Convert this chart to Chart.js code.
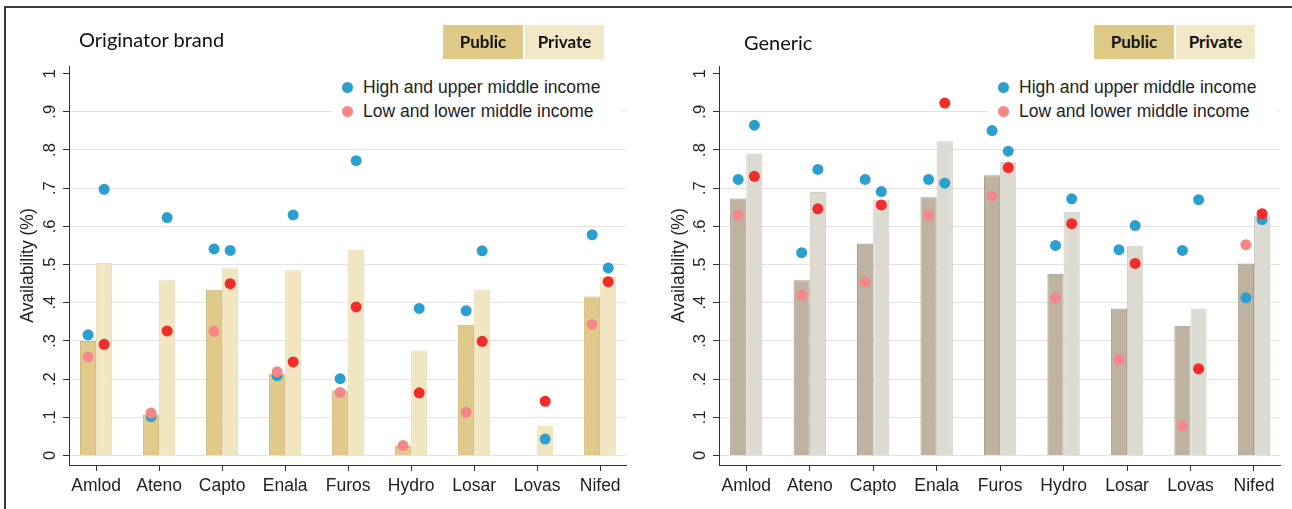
<!DOCTYPE html>
<html>
<head>
<meta charset="utf-8">
<script src="https://cdn.jsdelivr.net/npm/chart.js@4.4.1/dist/chart.umd.min.js"></script>
<style>
  body { margin: 0; background: #fff; }
  #wrap { position: relative; width: 1292px; height: 509px; overflow: hidden; }
  .panel { position: absolute; top: 0; width: 646px; height: 509px; }
  .frame { position: absolute; left: 4px; top: 6px; width: 1400px; height: 600px; border: 2px solid #3a3a3a; pointer-events: none; }
  .title { position: absolute; font: 20px Lato, sans-serif; line-height: 20px; color: #111; white-space: nowrap; }
  .key { position: absolute; top: 25px; height: 34px; text-align: center; font: bold 17px Lato, sans-serif; line-height: 34px; color: #111; }
  .legend { position: absolute; top: 73px; width: 290px; height: 52px; background: #fff; }
  .row { position: absolute; left: 0; width: 290px; height: 24px; font: 17.5px "Liberation Sans", Arial, sans-serif; line-height: 24px; color: #222; white-space: nowrap; }
  .row .dot { position: absolute; left: 10px; top: 6.5px; width: 11px; height: 11px; border-radius: 50%; }
  .row span { position: absolute; left: 31px; top: 0; }
</style>
</head>
<body>
<div id="wrap">
  <div class="panel" style="left:0"><canvas id="origChart" width="646" height="509"></canvas></div>
  <div class="panel" style="left:646px"><canvas id="genChart" width="646" height="509"></canvas></div>

  <div class="title" style="left:79px; top:29px">Originator brand</div>
  <div class="key" style="left:443px; width:80px; background:#dfc987">Public</div>
  <div class="key" style="left:525px; width:79px; background:#f2e7c6">Private</div>
  <div class="legend" style="left:332px">
    <div class="row" style="top:2px"><div class="dot" style="background:#2a9fd0"></div><span>High and upper middle income</span></div>
    <div class="row" style="top:26px"><div class="dot" style="background:#f5868a"></div><span>Low and lower middle income</span></div>
  </div>

  <div class="title" style="left:744px; top:32px">Generic</div>
  <div class="key" style="left:1094px; width:80px; background:#dfc987">Public</div>
  <div class="key" style="left:1176px; width:79px; background:#f2e7c6">Private</div>
  <div class="legend" style="left:988px">
    <div class="row" style="top:2px"><div class="dot" style="background:#2a9fd0"></div><span>High and upper middle income</span></div>
    <div class="row" style="top:26px"><div class="dot" style="background:#f5868a"></div><span>Low and lower middle income</span></div>
  </div>

  <div class="frame"></div>
</div>
<script>
const drugs = ["Amlod", "Ateno", "Capto", "Enala", "Furos", "Hydro", "Losar", "Lovas", "Nifed"];
const yTicks = [0, 0.1, 0.2, 0.3, 0.4, 0.5, 0.6, 0.7, 0.8, 0.9, 1];
const yTickLabels = ["0", ".1", ".2", ".3", ".4", ".5", ".6", ".7", ".8", ".9", "1"];

// Originator brand
const origPublic = [0.300, 0.108, 0.434, 0.214, 0.170, 0.025, 0.342, null, 0.416];
const origPrivate = [0.504, 0.459, 0.492, 0.485, 0.539, 0.275, 0.434, 0.078, 0.469];
const origHighPublic = [0.316, 0.102, 0.541, 0.209, 0.201, null, 0.379, null, 0.578];
const origLowPublic = [0.258, 0.111, 0.325, 0.219, 0.165, 0.026, 0.113, null, 0.343];
const origHighPrivate = [0.697, 0.623, 0.537, 0.630, 0.772, 0.385, 0.536, 0.043, 0.491];
const origLowPrivate = [0.291, 0.326, 0.450, 0.245, 0.389, 0.164, 0.299, 0.142, 0.455];

// Generic
const genPublic = [0.673, 0.459, 0.555, 0.676, 0.734, 0.476, 0.385, 0.340, 0.503];
const genPrivate = [0.791, 0.690, 0.670, 0.823, 0.769, 0.638, 0.549, 0.385, 0.628];
const genHighPublic = [0.723, 0.531, 0.723, 0.723, 0.851, 0.550, 0.539, 0.537, 0.413];
const genLowPublic = [0.629, 0.420, 0.455, 0.629, 0.679, 0.413, 0.251, 0.078, 0.552];
const genHighPrivate = [0.865, 0.749, 0.691, 0.713, 0.797, 0.672, 0.602, 0.670, 0.618];
const genLowPrivate = [0.731, 0.646, 0.656, 0.923, 0.754, 0.607, 0.503, 0.227, 0.633];

const blue = "#2a9fd0";
const pink = "#f5868a";
const red = "#f22b2b";

const catPct = 0.51;
const dx = catPct / 4; // centre of each bar of the pair

function pts(vals, shift) {
    return vals.map((v, i) => ({ x: i + shift, y: v }));
}

function dots(label, vals, shift, color, order) {
    return {
        type: "scatter",
        label: label,
        data: pts(vals, shift),
        backgroundColor: color,
        borderWidth: 0,
        pointRadius: 5.5,
        pointHoverRadius: 5.5,
        order: order,
    };
}

function makePanel(id, s) {
    const font = { family: "'Liberation Sans', Arial, sans-serif" };
    new Chart(document.getElementById(id), {
        type: "bar",
        data: {
            datasets: [
                {
                    label: "Public",
                    data: pts(s.pub, 0),
                    backgroundColor: s.pubColor,
                    borderColor: s.pubBorder,
                    borderWidth: 1,
                    categoryPercentage: catPct,
                    barPercentage: 1,
                    order: 3,
                },
                {
                    label: "Private",
                    data: pts(s.priv, 0),
                    backgroundColor: s.privColor,
                    borderColor: s.privBorder,
                    borderWidth: 1,
                    categoryPercentage: catPct,
                    barPercentage: 1,
                    order: 3,
                },
                dots("Low public", s.loPub, -dx, pink, 0),
                dots("Low private", s.loPriv, dx, red, 0),
                dots("High public", s.hiPub, -dx, blue, 1),
                dots("High private", s.hiPriv, dx, blue, 1),
            ],
        },
        options: {
            responsive: false,
            animation: false,
            layout: { padding: { top: 66, right: s.padRight, bottom: 0, left: 0 } },
            plugins: {
                legend: { display: false },
                tooltip: { enabled: false },
            },
            scales: {
                x: {
                    type: "linear",
                    min: -0.43,
                    max: 8.41,
                    offset: false,
                    afterBuildTicks: (sc) => { sc.ticks = drugs.map((d, i) => ({ value: i })); },
                    afterFit: (sc) => { sc.height = 44; },
                    ticks: {
                        autoSkip: false,
                        maxRotation: 0,
                        padding: 5,
                        color: "#222",
                        font: { ...font, size: 17.5 },
                        callback: (v, i) => drugs[i],
                    },
                    grid: { drawOnChartArea: false, offset: false, tickLength: 6, tickColor: "#333" },
                    border: { color: "#333", width: 1 },
                },
                y: {
                    min: -0.025,
                    max: 1.02,
                    afterBuildTicks: (sc) => { sc.ticks = yTicks.map((v) => ({ value: v })); },
                    afterFit: (sc) => { sc.width = s.axisLeft; },
                    ticks: {
                        minRotation: 90,
                        maxRotation: 90,
                        crossAlign: "center",
                        padding: 6,
                        color: "#222",
                        font: { ...font, size: 16.5 },
                        callback: (v, i) => yTickLabels[i],
                    },
                    grid: {
                        color: (c) => (c.tick && c.tick.value === 1 ? "rgba(0,0,0,0)" : "#e3e3e3"),
                        tickColor: "#333",
                        tickLength: 6,
                    },
                    border: { color: "#333", width: 1 },
                    title: {
                        display: true,
                        text: "Availability (%)",
                        color: "#222",
                        font: { ...font, size: 17.5 },
                        padding: { top: s.titlePad, bottom: 0 },
                    },
                },
            },
        },
    });
}

makePanel("origChart", {
    pub: origPublic, priv: origPrivate,
    hiPub: origHighPublic, loPub: origLowPublic,
    hiPriv: origHighPrivate, loPriv: origLowPrivate,
    pubColor: "#dfca8b", pubBorder: "#cfb873",
    privColor: "#f1e6c2", privBorder: "#e9dcb2",
    axisLeft: 69, padRight: 20, titlePad: 18,
});

makePanel("genChart", {
    pub: genPublic, priv: genPrivate,
    hiPub: genHighPublic, loPub: genLowPublic,
    hiPriv: genHighPrivate, loPriv: genLowPrivate,
    pubColor: "#bdb39f", pubBorder: "#a59a86",
    privColor: "#dddad2", privBorder: "#d1cdc3",
    axisLeft: 73, padRight: 12, titlePad: 23,
});
</script>
</body>
</html>
